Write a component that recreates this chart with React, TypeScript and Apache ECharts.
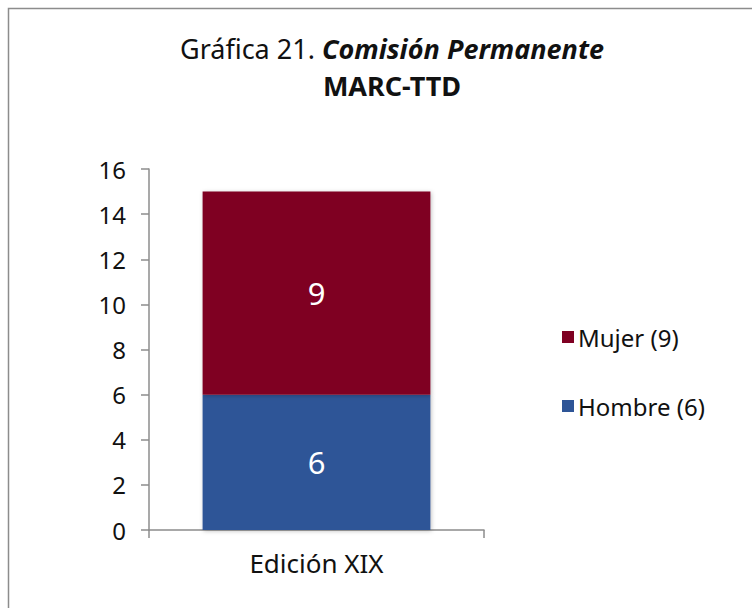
import React, { useEffect, useRef } from "react";
import * as echarts from "echarts";

const categories = ["Edición XIX"];
const hombre = [6];
const mujer = [9];
const legendNames = ["Mujer (9)", "Hombre (6)"];
const FONT = "'Noto Sans', 'DejaVu Sans', sans-serif";

export default function App() {
  const ref = useRef<HTMLDivElement>(null);
  useEffect(() => {
    const chart = echarts.init(ref.current!, null, { renderer: "svg" });
    chart.setOption({
      animation: false,
      backgroundColor: "#ffffff",
      graphic: [
        {
          type: "rect",
          shape: { x: 8.5, y: 8.5, width: 800, height: 700 },
          style: { fill: "none", stroke: "#8c8c8c", lineWidth: 1.5 },
          silent: true,
        },
      ],
      title: {
        left: 387,
        top: 25,
        textAlign: "center",
        text: "{n|Gráfica 21. }{b|Comisión Permanente}\n{c|MARC-TTD}",
        textStyle: {
          fontWeight: "normal",
          rich: {
            n: { fontSize: 27, fontFamily: FONT, color: "#111", fontWeight: "normal", lineHeight: 37 },
            b: { fontSize: 27, fontFamily: FONT, color: "#111", fontWeight: "bold", fontStyle: "italic", lineHeight: 37 },
            c: { fontSize: 27, fontFamily: FONT, color: "#111", fontWeight: "bold", lineHeight: 37 },
          },
        },
      },
      legend: {
        orient: "vertical",
        left: 557,
        top: 320,
        itemWidth: 12,
        itemHeight: 12,
        itemGap: 45,
        icon: "rect",
        data: legendNames,
        textStyle: { fontSize: 24, fontFamily: FONT, color: "#111", padding: [0, 0, 0, -1] },
      },
      grid: { left: 149, right: 268, top: 169, bottom: 78 },
      xAxis: {
        type: "category",
        data: categories,
        axisLine: { lineStyle: { color: "#8c8c8c", width: 1.5 } },
        axisTick: { show: true, length: 8, lineStyle: { color: "#8c8c8c", width: 1.5 } },
        axisLabel: { fontSize: 26, fontFamily: FONT, color: "#111", margin: 20 },
      },
      yAxis: {
        type: "value",
        min: 0,
        max: 16,
        interval: 2,
        axisLine: { show: true, lineStyle: { color: "#8c8c8c", width: 1.5 } },
        axisTick: { show: true, length: 8, lineStyle: { color: "#8c8c8c", width: 1.5 } },
        splitLine: { show: false },
        axisLabel: { fontSize: 24, fontFamily: FONT, color: "#111", margin: 23 },
      },
      series: [
        {
          name: "Hombre (6)",
          type: "bar",
          stack: "t",
          data: hombre,
          barWidth: "68%",
          itemStyle: { color: "#2E5597", shadowColor: "rgba(0,0,0,0.25)", shadowBlur: 4, shadowOffsetX: 1, shadowOffsetY: 1 },
          label: { show: true, position: "inside", color: "#fff", fontSize: 31, fontFamily: FONT },
        },
        {
          name: "Mujer (9)",
          type: "bar",
          stack: "t",
          data: mujer,
          barWidth: "68%",
          itemStyle: { color: "#7F0022", shadowColor: "rgba(0,0,0,0.25)", shadowBlur: 4, shadowOffsetX: 1, shadowOffsetY: 1 },
          label: { show: true, position: "inside", color: "#fff", fontSize: 31, fontFamily: FONT },
        },
      ],
    });
    return () => chart.dispose();
  }, []);
  return (
    <div
      ref={ref}
      style={{ position: "fixed", left: 0, top: 0, width: 752, height: 608 }}
    />
  );
}
